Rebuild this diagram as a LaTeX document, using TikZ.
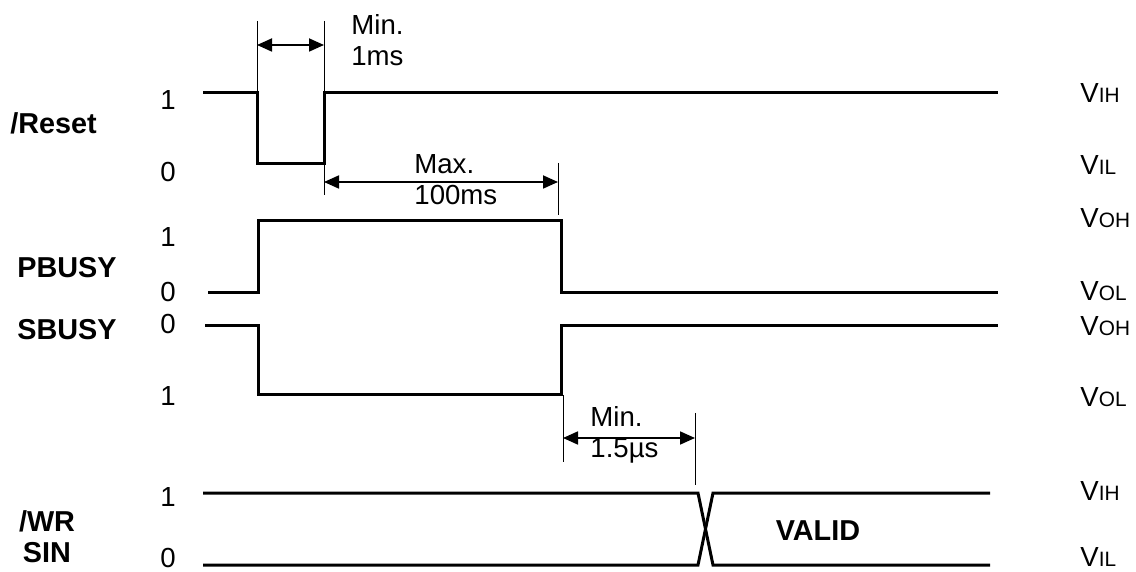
\documentclass[tikz,border=0pt]{standalone}
\usepackage{fontspec}
\setmainfont{Liberation Sans}
\usetikzlibrary{arrows.meta}
\newcommand{\vlevel}[1]{V{\fontsize{10.4}{11}\selectfont #1}}

\begin{document}
\begin{tikzpicture}[x=0.5pt, y=-0.5pt,
    signal/.style={line width=1.5pt},
    marker/.style={line width=0.5pt},
    dimarrow/.style={line width=0.9pt, {Triangle[length=7.5pt,width=6.5pt]}-{Triangle[length=7.5pt,width=6.5pt]}},
    txt/.style={font=\fontsize{13.8}{15.5}\selectfont, inner sep=0pt, align=left},
    signame/.style={font=\fontsize{14.4}{15.5}\selectfont\bfseries, inner sep=0pt, align=center},
    lvl/.style={txt, anchor=west}]
  \useasboundingbox (0,0) rectangle (1136,572);

  % signal names
  \node[signame, anchor=west] (reset) at (10,123) {/Reset};
  \node[signame, anchor=west] (pbusy) at (17,268) {PBUSY};
  \node[signame, anchor=west] (sbusy) at (17,330) {SBUSY};
  \node[signame] (wrsin) at (47,537) {/WR\\SIN};

  % logic values
  \foreach \v/\y [count=\i] in {1/100, 0/172, 1/237, 0/292, 0/324, 1/396, 1/497, 0/558}
    \node[txt] (val\i) at (168,\y) {\v};

  % voltage levels
  \foreach \v/\y [count=\i] in {IH/93, IL/165, OH/218, OL/291, OH/326, OL/397, IH/491, IL/557}
    \node[lvl] (lvl\i) at (1080,\y) {\vlevel{\v}};

  % waveforms
  \draw[signal] (203,93) -- (257,93) -- (257,164) -- (324,164) -- (324,93) -- (998,93);
  \draw[signal] (208,293) -- (258,293) -- (258,221) -- (561,221) -- (561,293) -- (998,293);
  \draw[signal] (205,326) -- (258,326) -- (258,395) -- (561,395) -- (561,326) -- (998,326);
  \draw[signal] (203,493) -- (698,493) -- (713,565) -- (990,565);
  \draw[signal] (203,565) -- (698,565) -- (713,493) -- (990,493);
  \node[signame] (valid) at (818,531) {VALID};

  % timing marks
  \coordinate (m1a) at (257,21);  \coordinate (m1b) at (257,93);
  \coordinate (m2a) at (324,21);  \coordinate (m2b) at (324,195);
  \coordinate (m3a) at (558,163); \coordinate (m3b) at (558,215);
  \coordinate (m4a) at (563,395); \coordinate (m4b) at (563,462);
  \coordinate (m5a) at (695,413); \coordinate (m5b) at (695,485);
  \foreach \m in {m1, m2, m3, m4, m5}
    \draw[marker] (\m a) -- (\m b);

  \draw[dimarrow] (m1a |- 0,45) -- (m2a |- 0,45);
  \draw[dimarrow] (m2a |- 0,182) -- (m3a |- 0,182);
  \draw[dimarrow] (m4a |- 0,438) -- (m5a |- 0,438);

  \node[txt, anchor=west] (tmin1) at (351,40) {Min.\\1ms};
  \node[txt, anchor=west] (tmax) at (414,180) {Max.\\100ms};
  \node[txt, anchor=west] (tmin2) at (590,435) {Min.\\1.5µs};
\end{tikzpicture}
\end{document}
